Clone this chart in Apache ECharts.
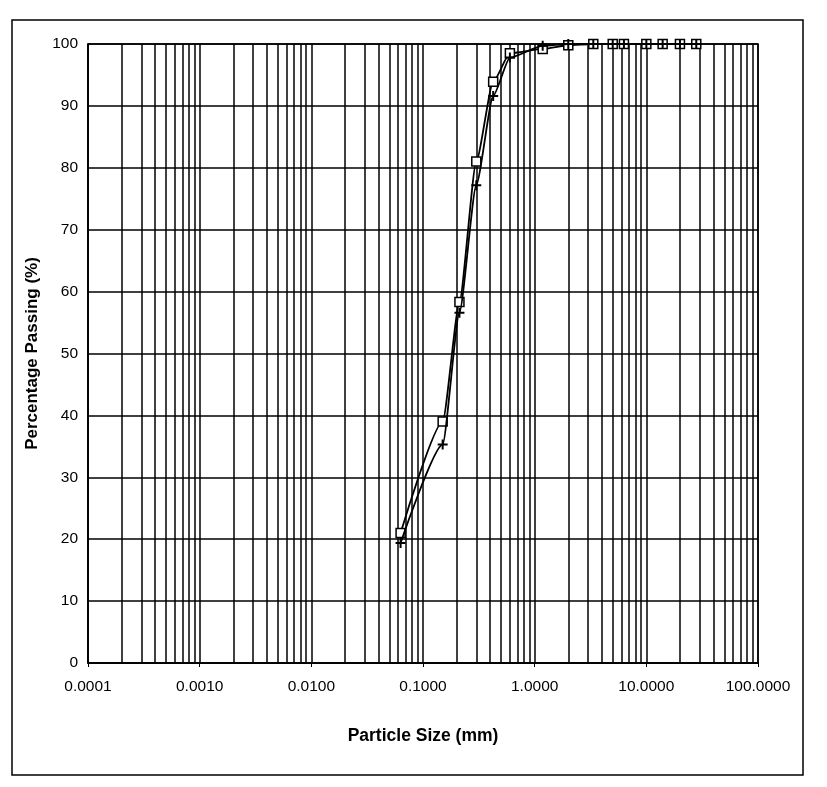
<!DOCTYPE html>
<html><head><meta charset="utf-8">
<script src="https://cdn.jsdelivr.net/npm/echarts@6/dist/echarts.min.js"></script>
<style>html,body{margin:0;padding:0;background:#fff}#c{width:827px;height:787px}</style>
</head><body><div id="c"></div>
<script>
// Sieve sizes (mm)
const sizesA = [0.063, 0.15, 0.212, 0.3, 0.425, 0.6, 1.18, 2, 3.35, 5, 6.3, 10, 14, 20, 28];
const passingA = [21, 39, 58.3, 81, 93.9, 98.5, 99.2, 99.8, 100, 100, 100, 100, 100, 100, 100];
const sizesB = [0.063, 0.15, 0.212, 0.3, 0.425, 0.6, 1.18, 2, 3.35, 5, 6.3, 10, 14, 20, 28];
const passingB = [19.4, 35.3, 56.6, 77.2, 91.6, 97.8, 99.7, 100, 100, 100, 100, 100, 100, 100, 100];
const decades = [0.0001, 0.001, 0.01, 0.1, 1, 10];
const minorMult = [2, 3, 4, 5, 6, 7, 8, 9];
const yTicks = [0, 10, 20, 30, 40, 50, 60, 70, 80, 90, 100];

const minorLines = [];
decades.forEach(d => minorMult.forEach(m => {
  const v = +(d * m).toPrecision(3);
  minorLines.push([{ coord: [v, 0] }, { coord: [v, 100] }]);
}));

const chart = echarts.init(document.getElementById('c'));
const font = 'Liberation Sans, Arial, sans-serif';
chart.setOption({
  animation: false,
  backgroundColor: '#fff',
  grid: { left: 88, right: 69, top: 44, bottom: 124, show: true, borderColor: '#000', borderWidth: 1.5, backgroundColor: 'transparent' },
  xAxis: {
    type: 'log', logBase: 10, min: 0.0001, max: 100, interval: 1,
    name: 'Particle Size (mm)', nameLocation: 'middle', nameGap: 64,
    nameTextStyle: { fontFamily: font, fontSize: 17.5, fontWeight: 'bold', color: '#000' },
    axisLine: { show: true, lineStyle: { color: '#000', width: 1.5 } },
    axisTick: { show: true, length: 4, lineStyle: { color: '#000' } },
    axisLabel: { fontFamily: font, fontSize: 15.5, color: '#000', margin: 16,
      formatter: v => Number(v).toFixed(4) },
    splitLine: { show: true, lineStyle: { color: '#000', width: 1.5 } }
  },
  yAxis: {
    type: 'value', min: 0, max: 100, interval: 10,
    name: 'Percentage Passing (%)', nameLocation: 'middle', nameGap: 46,
    nameTextStyle: { fontFamily: font, fontSize: 17, fontWeight: 'bold', color: '#000' },
    axisLine: { show: true, lineStyle: { color: '#000', width: 1.5 } },
    axisTick: { show: false },
    axisLabel: { fontFamily: font, fontSize: 15.5, color: '#000', margin: 10 },
    splitLine: { show: true, lineStyle: { color: '#000', width: 1.5 } }
  },
  graphic: [{
    type: 'rect', shape: { x: 12, y: 20, width: 791, height: 755 },
    style: { fill: 'none', stroke: '#000', lineWidth: 1.5 }, z: -1, silent: true
  }],
  series: [
    {
      type: 'line', data: sizesA.map((s, i) => [s, passingA[i]]),
      smooth: 0.2, smoothMonotone: 'x', symbol: 'rect', symbolSize: 9, showSymbol: true,
      lineStyle: { color: '#000', width: 1.8 },
      itemStyle: { color: '#fff', borderColor: '#000', borderWidth: 1.5 },
      z: 5,
      markLine: {
        silent: true, symbol: 'none', label: { show: false },
        lineStyle: { color: '#000', width: 1.5, type: 'solid' },
        data: minorLines, z: 1
      }
    },
    {
      type: 'line', data: sizesB.map((s, i) => [s, passingB[i]]),
      smooth: 0.2, smoothMonotone: 'x', symbol: 'path://M4,0H6V4H10V6H6V10H4V6H0V4H4Z', symbolSize: 10, showSymbol: true,
      lineStyle: { color: '#000', width: 1.8 },
      itemStyle: { color: '#000' },
      z: 6
    }
  ]
});
</script></body></html>
